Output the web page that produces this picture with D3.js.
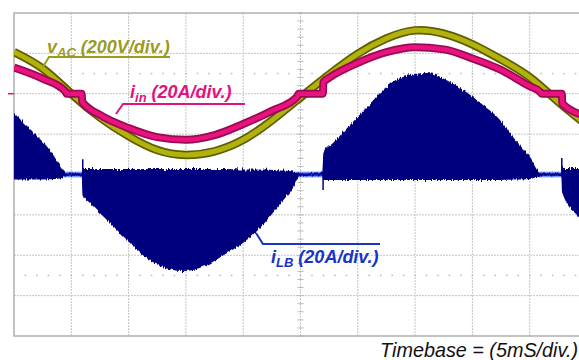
<!DOCTYPE html>
<html>
<head>
<meta charset="utf-8">
<script src="https://cdn.jsdelivr.net/npm/d3@7"></script>
<style>
  body { margin: 0; background: #fff; }
  svg { display: block; font-family: "Liberation Sans", Arial, sans-serif; }
</style>
</head>
<body>
<script>
// scope record: 10 div x 5 ms, times in ms
const vacTime = [0, 2.5, 5, 7.5, 10, 12.5, 15, 17.5, 20, 22.5, 25, 27.5, 30, 32.5, 35, 37.5, 40, 42.5, 45, 47.5, 50];
const vacVolts = [207, 125, 0, -117, -210, -279, -303, -285, -228, -132, -18, 95, 198, 274, 314, 298, 245, 170, 82, -40, -155];

const iinTime = [0, 2.5, 4.5, 4.6, 5.9, 5.95, 7.5, 10, 12.5, 15, 17.5, 20, 22.5, 24.7, 24.85, 26.95, 27.0, 27.5, 30, 32.5, 35, 37.5, 40, 42.5, 45, 45.9, 46.05, 47.8, 47.85, 50];
const iinAmps = [13, 7.5, 1, 0, 0, -4, -10.5, -17, -21.5, -22.8, -20.5, -15, -8.5, -1.5, 0, 0, 5.8, 7.9, 15.3, 20.6, 23, 22, 17.5, 11.8, 3.7, 1, 0, 0, -5, -11];

// boost inductor current, drawn as its switching envelope
const ilbTime = [0, 1.66, 3.14, 4.0, 4.6, 5.9, 6.0, 6.6, 8.38, 9.86, 11.26, 12.74, 14.75, 16.67, 18.59, 19.98, 21.47, 23.21, 24.35, 24.96, 26.9, 27.0, 27.84, 29.32, 30.8, 32.2, 33.68, 36.04, 38.05, 40.93, 42.41, 43.54, 45.03, 46.07, 47.75, 47.85, 49.3, 50];
const ilbHigh = [30.5, 21, 12, 4.7, 0.5, 0.5, 2.7, 2.7, 2.7, 2.7, 2.7, 2.7, 2.7, 2.7, 2.7, 2.5, 2.5, 2, 1.5, 0.5, 0.5, 10.7, 15.6, 24.5, 33.4, 41.9, 47.8, 50.3, 45.8, 34.4, 27, 18.6, 8.7, 0.5, 0.5, 3.2, 3.2, 3.2];
const ilbLow = [-2.5, -2.5, -2.3, -2, -0.5, -0.5, -10.2, -14, -24, -32.4, -40, -45.3, -47.8, -45.3, -38.9, -33.9, -26.5, -14.6, -6.7, -0.5, -0.5, -2.7, -2.7, -2.7, -2.7, -2.7, -2.7, -2.7, -2.7, -2.7, -2.7, -2.5, -2.2, -0.5, -0.5, -9.2, -21.1, -25];
const spikeTime = [6.0, 26.97, 47.8];
const spikeAmps = [7.5, -7.7, 8.2];

const voltsPerDiv = 200;
const ampsPerDiv = 20;

const width = 579;
const height = 360;
const gLeft = 14, gTop = 13, gRight = 587, gBottom = 336;

const x = d3.scaleLinear([0, 50], [gLeft, gRight]);
const xDiv = d3.scaleLinear([0, 10], [gLeft, gRight]);
const yDiv = d3.scaleLinear([-4, 4], [gBottom, gTop]);
// vAC and iin share a ground 2 div above centre, iLB sits on the centre line
const yVac = (v) => yDiv(2 + v / voltsPerDiv);
const yIin = (a) => yDiv(2 + a / ampsPerDiv);
const yIlb = (a) => yDiv(a / ampsPerDiv);

const svg = d3.create("svg").attr("width", width).attr("height", height);
svg.append("rect").attr("width", width).attr("height", height).attr("fill", "#fff");

const defs = svg.append("defs");
defs.append("clipPath").attr("id", "plot")
  .append("rect").attr("x", gLeft).attr("y", gTop).attr("width", gRight - gLeft).attr("height", gBottom - gTop);
// vertical-only jitter so the envelope edges look like switching ripple
const rough = defs.append("filter").attr("id", "rough")
  .attr("x", "-5%").attr("y", "-5%").attr("width", "110%").attr("height", "110%");
rough.append("feTurbulence").attr("type", "fractalNoise")
  .attr("baseFrequency", "0.8 0.05").attr("numOctaves", 2).attr("seed", 4).attr("result", "noise");
rough.append("feColorMatrix").attr("in", "noise").attr("type", "matrix")
  .attr("values", "0 0 0 0 0.5  0 1 0 0 0  0 0 1 0 0  0 0 0 0 1").attr("result", "jitter");
rough.append("feDisplacementMap").attr("in", "SourceGraphic").attr("in2", "jitter")
  .attr("scale", 6).attr("xChannelSelector", "R").attr("yChannelSelector", "G");

// graticule
const grid = svg.append("g").attr("stroke", "#c4c4c4").attr("stroke-width", 1).attr("stroke-dasharray", "2 1");
grid.selectAll(".v").data(d3.range(1, 10)).join("line")
  .attr("x1", (d) => xDiv(d)).attr("x2", (d) => xDiv(d)).attr("y1", gTop).attr("y2", gBottom);
grid.selectAll(".h").data(d3.range(-3, 4)).join("line")
  .attr("y1", (d) => yDiv(d)).attr("y2", (d) => yDiv(d)).attr("x1", gLeft).attr("x2", gRight);

const marks = svg.append("g").attr("fill", "#b8b8b8");
[-2.5, 2.5].forEach((level) => {
  marks.append("g").selectAll("rect").data(d3.range(0.2, 10, 0.2)).join("rect")
    .attr("x", (d) => xDiv(d) - 0.75).attr("y", yDiv(level) - 0.75).attr("width", 1.5).attr("height", 1.5);
});
const ticks = svg.append("g").attr("stroke", "#b8b8b8").attr("stroke-width", 1);
ticks.append("g").selectAll("line").data(d3.range(-4, 4.01, 0.2)).join("line")
  .attr("x1", xDiv(5) - 3).attr("x2", xDiv(5) + 3).attr("y1", (d) => yDiv(d)).attr("y2", (d) => yDiv(d));
ticks.append("g").selectAll("line").data(d3.range(0, 10.01, 0.2)).join("line")
  .attr("y1", yDiv(0) - 3).attr("y2", yDiv(0) + 3).attr("x1", (d) => xDiv(d)).attr("x2", (d) => xDiv(d));

svg.append("rect").attr("x", gLeft).attr("y", gTop).attr("width", gRight - gLeft).attr("height", gBottom - gTop)
  .attr("fill", "none").attr("stroke", "#b0b0b0").attr("stroke-width", 1.5);

const traces = svg.append("g").attr("clip-path", "url(#plot)");

// iLB: bright idle line, then the switching envelope over it
traces.append("line").attr("x1", gLeft).attr("x2", gRight).attr("y1", yIlb(0)).attr("y2", yIlb(0))
  .attr("stroke", "#5a7cff").attr("stroke-width", 6).attr("opacity", 0.6);
traces.append("line").attr("x1", gLeft).attr("x2", gRight).attr("y1", yIlb(0)).attr("y2", yIlb(0))
  .attr("stroke", "#1238ff").attr("stroke-width", 3.5);
const ilbArea = d3.area()
  .x((d, i) => x(ilbTime[i]))
  .y0((d, i) => yIlb(ilbLow[i]))
  .y1((d, i) => yIlb(ilbHigh[i]))
  .curve(d3.curveMonotoneX);
traces.append("path").datum(ilbTime).attr("d", ilbArea)
  .attr("fill", "#00007f").attr("filter", "url(#rough)");
traces.append("g").selectAll("line").data(spikeTime).join("line")
  .attr("x1", (d) => x(d)).attr("x2", (d) => x(d))
  .attr("y1", yIlb(0)).attr("y2", (d, i) => yIlb(spikeAmps[i]))
  .attr("stroke", "#00007f").attr("stroke-width", 1.5);

const vacLine = d3.line().x((d, i) => x(vacTime[i])).y((d, i) => yVac(vacVolts[i])).curve(d3.curveNatural);
const iinLine = d3.line().x((d, i) => x(iinTime[i])).y((d, i) => yIin(iinAmps[i])).curve(d3.curveMonotoneX);

traces.append("path").datum(vacTime).attr("d", vacLine)
  .attr("fill", "none").attr("stroke", "#5e5e00").attr("stroke-width", 8.5);
traces.append("path").datum(vacTime).attr("d", vacLine)
  .attr("fill", "none").attr("stroke", "#b2b20e").attr("stroke-width", 5);
traces.append("path").datum(iinTime).attr("d", iinLine)
  .attr("fill", "none").attr("stroke", "#9a0a52").attr("stroke-width", 8);
traces.append("path").datum(iinTime).attr("d", iinLine)
  .attr("fill", "none").attr("stroke", "#e8137f").attr("stroke-width", 4.5);

// channel marker on the left edge
svg.append("line").attr("x1", 8).attr("x2", gLeft).attr("y1", yIin(0)).attr("y2", yIin(0))
  .attr("stroke", "#e8137f").attr("stroke-width", 1.5);

// labels with leader lines
function label(color, tx, ty, main, sub, rest, path) {
  svg.append("path").attr("d", path).attr("fill", "none").attr("stroke", color).attr("stroke-width", 2);
  const t = svg.append("text").attr("x", tx).attr("y", ty)
    .attr("fill", color).attr("font-weight", "bold").attr("font-style", "italic").attr("font-size", 18);
  t.append("tspan").text(main);
  t.append("tspan").attr("font-size", 13).attr("dy", 4).text(sub);
  t.append("tspan").attr("dy", -4).text(" " + rest);
}
label("#9b9b1f", 47, 53, "v", "AC", "(200V/div.)", "M43,67 L49,57 L170,57");
label("#e3127f", 130, 98, "i", "in", "(20A/div.)", "M116,114 L123,104 L245,104");
label("#1834c8", 271, 263, "i", "LB", "(20A/div.)", "M256,233 L263,244 L380,244");

svg.append("text").attr("x", 578).attr("y", 357).attr("text-anchor", "end")
  .attr("font-style", "italic").attr("font-size", 19.8).attr("fill", "#111")
  .text("Timebase = (5mS/div.)");

document.body.appendChild(svg.node());
</script>
</body>
</html>
